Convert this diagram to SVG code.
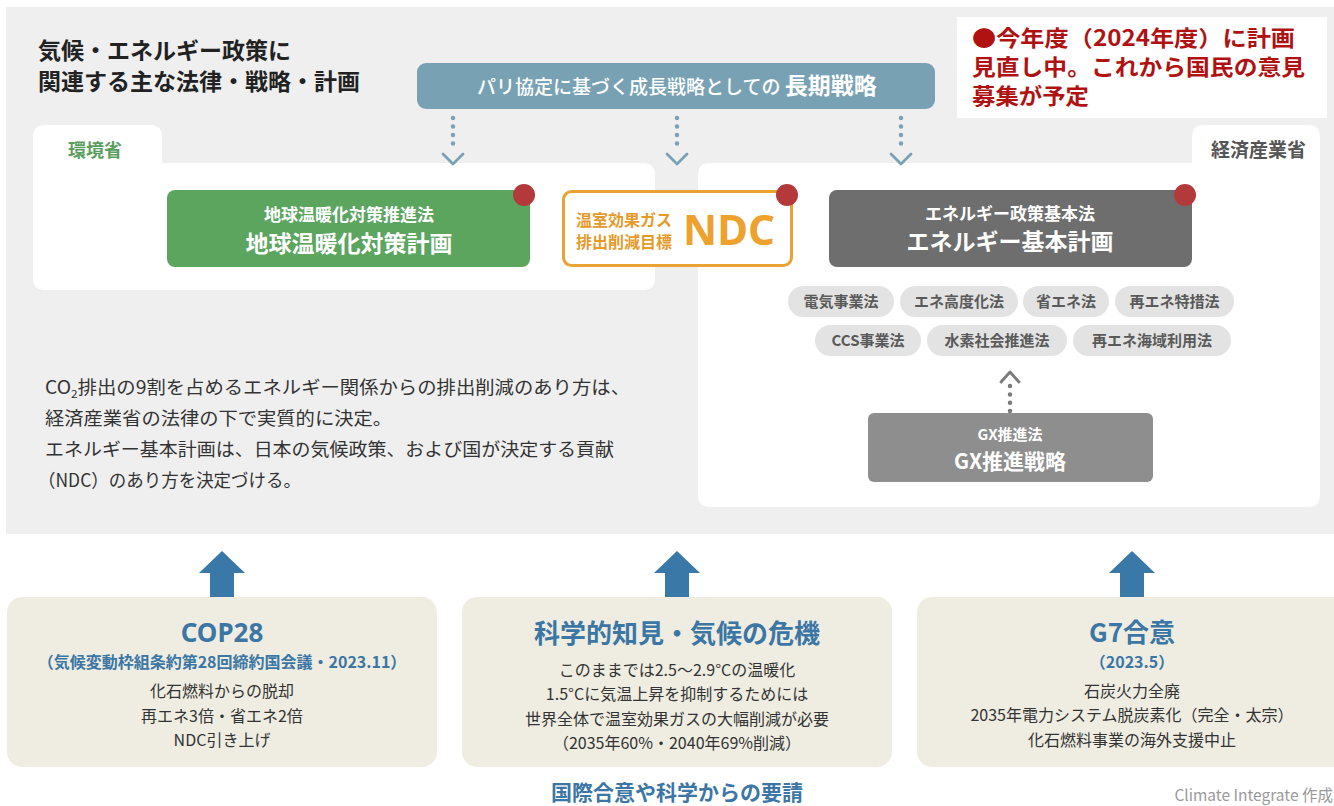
<svg xmlns="http://www.w3.org/2000/svg" width="1334" height="806" viewBox="0 0 1334 806">
<defs>
<style>
text{font-family:"Noto Sans CJK JP","Noto Sans",sans-serif;}
.b{font-weight:700;}
.w{fill:#ffffff;}
.dot{fill:#b4393a;}
.pill{fill:#e3e3e3;}
.pt{font-size:15px;font-weight:700;fill:#5a5a5a;text-anchor:middle;}
.para{font-size:18px;fill:#333333;}
.beige{fill:#efede2;}
.bt{fill:#3b76a5;text-anchor:middle;font-weight:700;}
.body{font-size:16px;fill:#333333;text-anchor:middle;}
.note{font-size:22px;font-weight:700;fill:#b01212;}
.dl{stroke:#7aa2b4;stroke-width:4.5;stroke-linecap:round;stroke-dasharray:0 8.5;fill:none;}
.ch{stroke:#7aa2b4;stroke-width:2.8;fill:none;stroke-linecap:round;stroke-linejoin:round;}
.up{fill:#3a78a8;}
</style>
</defs>
<rect x="0" y="0" width="1334" height="806" fill="#ffffff"/>
<rect id="panel" x="6" y="7" width="1328" height="527" fill="#efefef"/>

<g id="title">
<text x="38" y="59" class="b" font-size="23" fill="#222">気候・エネルギー政策に</text>
<text x="38" y="90" class="b" font-size="23" fill="#222">関連する主な法律・戦略・計画</text>
</g>

<g id="note">
<rect x="957" y="17" width="370" height="101" fill="#ffffff"/>
<text class="note" x="972" y="46" textLength="323" lengthAdjust="spacingAndGlyphs">●今年度（2024年度）に計画</text>
<text class="note" x="972" y="75" textLength="333" lengthAdjust="spacingAndGlyphs">見直し中。これから国民の意見</text>
<text class="note" x="972" y="104" textLength="117" lengthAdjust="spacingAndGlyphs">募集が予定</text>
</g>

<g id="env-panel">
<path d="M33,137 Q33,125 45,125 L150,125 Q162,125 162,137 L162,163 L643,163 Q655,163 655,175 L655,278 Q655,290 643,290 L45,290 Q33,290 33,278 Z" fill="#ffffff"/>
<text x="68" y="157" class="b" font-size="18" fill="#5a9e5e">環境省</text>
</g>

<g id="meti-panel">
<path d="M710,163 L1192,163 L1192,137 Q1192,125 1204,125 L1308,125 Q1320,125 1320,137 L1320,495 Q1320,507 1308,507 L710,507 Q698,507 698,495 L698,175 Q698,163 710,163 Z" fill="#ffffff"/>
<text x="1306" y="157" class="b" font-size="19" fill="#555555" text-anchor="end">経済産業省</text>
</g>

<g id="long-term">
<rect x="417" y="63" width="518" height="46" rx="9" fill="#78a2b4"/>
<text x="477" y="94" class="w" font-size="19" font-weight="500">パリ協定に基づく成長戦略としての <tspan class="b" font-size="23">長期戦略</tspan></text>
</g>

<g id="connectors">
<line class="dl" x1="453" y1="118" x2="453" y2="152"/>
<polyline class="ch" points="443,154 453,164 463,154"/>
<line class="dl" x1="677" y1="118" x2="677" y2="152"/>
<polyline class="ch" points="667,154 677,164 687,154"/>
<line class="dl" x1="901" y1="118" x2="901" y2="152"/>
<polyline class="ch" points="891,154 901,164 911,154"/>
<line x1="1010" y1="411" x2="1010" y2="386" stroke="#7a7a7a" stroke-width="4.5" stroke-linecap="round" stroke-dasharray="0 8.3"/>
<polyline points="1001,382 1010,372 1019,382" stroke="#7a7a7a" stroke-width="2.8" fill="none" stroke-linecap="round" stroke-linejoin="round"/>
</g>

<g id="ondanka">
<rect x="167" y="190" width="363" height="77" rx="8" fill="#5ba55f"/>
<text x="349" y="221" class="w b" font-size="17" text-anchor="middle">地球温暖化対策推進法</text>
<text x="349" y="252" class="w b" font-size="23" text-anchor="middle">地球温暖化対策計画</text>
<circle class="dot" cx="524" cy="195" r="11"/>
</g>

<g id="ndc">
<rect x="563.5" y="191.5" width="228" height="74" rx="8" fill="#ffffff" stroke="#eaa233" stroke-width="3"/>
<text x="576" y="226" class="b" font-size="16" fill="#e59a2a">温室効果ガス</text>
<text x="576" y="248" class="b" font-size="16" fill="#e59a2a">排出削減目標</text>
<text x="729" y="245" class="b" font-size="42" fill="#eca22c" text-anchor="middle" style="font-family:'Noto Sans',sans-serif">NDC</text>
<circle class="dot" cx="787" cy="195" r="11"/>
</g>

<g id="energy-plan">
<rect x="829" y="190" width="363" height="77" rx="8" fill="#6e6e6e"/>
<text x="1010" y="220" class="w b" font-size="17" text-anchor="middle">エネルギー政策基本法</text>
<text x="1010" y="250" class="w b" font-size="23" text-anchor="middle">エネルギー基本計画</text>
<circle class="dot" cx="1185" cy="195" r="11"/>
</g>

<g id="laws">
<rect class="pill" x="788" y="286" width="106" height="31" rx="15.5"/>
<text class="pt" x="841" y="307">電気事業法</text>
<rect class="pill" x="900" y="286" width="118" height="31" rx="15.5"/>
<text class="pt" x="959" y="307">エネ高度化法</text>
<rect class="pill" x="1023" y="286" width="86" height="31" rx="15.5"/>
<text class="pt" x="1066" y="307">省エネ法</text>
<rect class="pill" x="1115" y="286" width="119" height="31" rx="15.5"/>
<text class="pt" x="1174.5" y="307">再エネ特措法</text>
<rect class="pill" x="815" y="325" width="106" height="31" rx="15.5"/>
<text class="pt" x="868" y="346">CCS事業法</text>
<rect class="pill" x="927" y="325" width="140" height="31" rx="15.5"/>
<text class="pt" x="997" y="346">水素社会推進法</text>
<rect class="pill" x="1073" y="325" width="158" height="31" rx="15.5"/>
<text class="pt" x="1152" y="346">再エネ海域利用法</text>
</g>

<g id="gx">
<rect x="868" y="413" width="285" height="69" rx="6" fill="#8e8e8e"/>
<text x="1010" y="440" class="w b" font-size="15" text-anchor="middle">GX推進法</text>
<text x="1010" y="469" class="w b" font-size="21" text-anchor="middle">GX推進戦略</text>
</g>

<g id="explanation">
<text class="para" x="45" y="394" textLength="585" lengthAdjust="spacingAndGlyphs">CO<tspan font-size="11" dy="4">2</tspan><tspan dy="-4">排出の9割を占めるエネルギー関係からの排出削減のあり方は、</tspan></text>
<text class="para" x="45" y="425" textLength="347" lengthAdjust="spacingAndGlyphs">経済産業省の法律の下で実質的に決定。</text>
<text class="para" x="45" y="456" textLength="569" lengthAdjust="spacingAndGlyphs">エネルギー基本計画は、日本の気候政策、および国が決定する貢献</text>
<text class="para" x="38" y="487" textLength="263" lengthAdjust="spacingAndGlyphs">（NDC）のあり方を決定づける。</text>
</g>

<g id="arrows-up">
<path class="up" d="M210,597 L210,573 L199,573 L222,551 L245,573 L234,573 L234,597 Z"/>
<path class="up" d="M665,597 L665,573 L654,573 L677,551 L700,573 L689,573 L689,597 Z"/>
<path class="up" d="M1120,597 L1120,573 L1109,573 L1132,551 L1155,573 L1144,573 L1144,597 Z"/>
</g>

<g id="cop28">
<rect class="beige" x="7" y="597" width="430" height="170" rx="15"/>
<text class="bt" x="222" y="642" font-size="26" style="font-family:'Noto Sans',sans-serif">COP28</text>
<text class="bt" x="222" y="668" font-size="16">（気候変動枠組条約第28回締約国会議・2023.11）</text>
<text class="body" x="222" y="697">化石燃料からの脱却</text>
<text class="body" x="222" y="722">再エネ3倍・省エネ2倍</text>
<text class="body" x="222" y="746">NDC引き上げ</text>
</g>

<g id="science">
<rect class="beige" x="462" y="597" width="430" height="170" rx="15"/>
<text class="bt" x="677" y="643" font-size="26">科学的知見・気候の危機</text>
<text class="body" x="677" y="676">このままでは2.5～2.9°Cの温暖化</text>
<text class="body" x="677" y="700">1.5°Cに気温上昇を抑制するためには</text>
<text class="body" x="677" y="725">世界全体で温室効果ガスの大幅削減が必要</text>
<text class="body" x="677" y="749">（2035年60%・2040年69%削減）</text>
</g>

<g id="g7">
<rect class="beige" x="917" y="597" width="440" height="170" rx="15"/>
<text class="bt" x="1132" y="642" font-size="26">G7合意</text>
<text class="bt" x="1132" y="668" font-size="16">（2023.5）</text>
<text class="body" x="1132" y="697">石炭火力全廃</text>
<text class="body" x="1132" y="721">2035年電力システム脱炭素化（完全・太宗）</text>
<text class="body" x="1132" y="746">化石燃料事業の海外支援中止</text>
</g>

<g id="footer">
<text class="bt" x="677" y="800" font-size="21">国際合意や科学からの要請</text>
<text x="1333" y="801" font-size="15.5" fill="#9a9a9a" text-anchor="end">Climate Integrate 作成</text>
</g>
</svg>
